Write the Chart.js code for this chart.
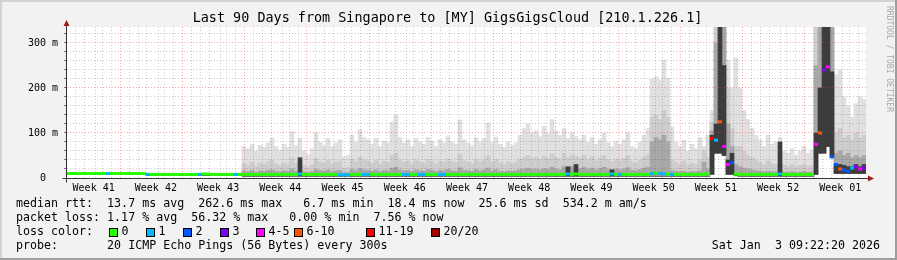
<!DOCTYPE html>
<html>
<head>
<meta charset="utf-8">
<title>Last 90 Days from Singapore to [MY] GigsGigsCloud [210.1.226.1]</title>
<script src="https://cdn.jsdelivr.net/npm/chart.js@4.4.1/dist/chart.umd.min.js"></script>
<style>
  html, body { margin: 0; padding: 0; background: #f2f2f2; }
  canvas { display: block; }
</style>
</head>
<body>
<canvas id="smokeChart" width="897" height="260"></canvas>
<script>
"use strict";

const title = "Last 90 Days from Singapore to [MY] GigsGigsCloud [210.1.226.1]";
const rangeDays = 90;
const stepDays = 0.45;        // one consolidated column of the rrd
const startHour = 9.372;      // Sun Oct 5 2025 09:22:20
const yMax = 335.5;

const weekLabels = ["Week 41", "Week 42", "Week 43", "Week 44", "Week 45", "Week 46", "Week 47",
    "Week 48", "Week 49", "Week 50", "Week 51", "Week 52", "Week 01"];
const yGridValues = [0, 20, 40, 60, 80, 100, 120, 140, 160, 180, 200, 220, 240, 260, 280, 300, 320];
const yTickValues = [0, 100, 200, 300];
const yTickLabels = ["0  ", "100 m", "200 m", "300 m"];

const lossLabels = ["0", "1", "2", "3", "4-5", "6-10", "11-19", "20/20"];
const lossColors = ["#26ff00", "#00b8ff", "#0059ff", "#7e00ff", "#ff00ff", "#ff5500", "#ff0000", "#a10000"];

const statsLines = [
    "median rtt:  13.7 ms avg  262.6 ms max   6.7 ms min  18.4 ms now  25.6 ms sd  534.2 m am/s",
    "packet loss: 1.17 % avg  56.32 % max   0.00 % min  7.56 % now"
];
const probeLine = "probe:       20 ICMP Echo Pings (56 Bytes) every 300s";
const stampLine = "Sat Jan  3 09:22:20 2026";

// median rtt per column (ms)
const median = [
    10, 10, 10, 10, 10, 10, 10, 10, 10, 10,
    10, 10, 10, 10, 10, 10, 10, 10, 10, 10,
    8, 8, 8, 8, 8, 8, 8, 8, 8, 8,
    8, 8, 8, 8, 9, 9, 8, 8, 8, 8,
    8, 8, 8, 8, 8, 8, 8, 8, 8, 8,
    8, 8, 8, 8, 8, 8, 8, 8, 9, 8,
    8, 8, 8, 8, 8, 8, 8, 8, 7, 7,
    7, 8, 8, 8, 8, 8, 8, 8, 8, 8,
    8, 8, 8, 8, 8, 8, 8, 8, 8, 8,
    8, 8, 8, 8, 8, 8, 8, 8, 8, 8,
    8, 8, 8, 8, 8, 8, 8, 8, 8, 8,
    8, 8, 8, 8, 8, 8, 8, 8, 8, 8,
    8, 8, 8, 8, 8, 9, 8, 9, 8, 8,
    8, 8, 8, 8, 8, 8, 9, 8, 8, 8,
    8, 8, 8, 8, 8, 8, 10, 11, 10, 9,
    9, 8, 8, 8, 8, 8, 8, 8, 8, 8,
    9, 88, 84, 125, 70, 30, 34, 9, 8, 8,
    8, 8, 8, 8, 8, 8, 8, 8, 9, 8,
    8, 8, 8, 8, 8, 8, 8, 75, 100, 240,
    247, 47, 30, 20, 18, 15, 22, 25, 20, 22
];

// loss band index per column (into lossLabels)
const loss = [
    0, 0, 0, 0, 0, 0, 0, 0, 0, 0,
    1, 0, 0, 0, 0, 0, 0, 0, 0, 0,
    1, 0, 0, 0, 0, 0, 0, 0, 0, 0,
    0, 0, 0, 1, 0, 0, 0, 0, 0, 0,
    0, 0, 1, 0, 0, 0, 0, 0, 0, 0,
    0, 0, 0, 0, 0, 0, 0, 0, 1, 0,
    0, 0, 0, 0, 0, 0, 0, 0, 1, 1,
    1, 0, 0, 0, 1, 1, 0, 0, 0, 0,
    0, 0, 0, 0, 1, 1, 0, 0, 1, 1,
    0, 0, 0, 1, 1, 0, 0, 0, 0, 0,
    0, 0, 0, 0, 0, 0, 0, 0, 0, 0,
    0, 0, 0, 0, 0, 0, 0, 0, 0, 0,
    0, 0, 0, 0, 0, 1, 0, 0, 0, 0,
    0, 0, 0, 0, 0, 0, 1, 0, 1, 0,
    0, 0, 0, 0, 0, 0, 1, 0, 1, 1,
    0, 1, 0, 0, 0, 0, 0, 0, 0, 0,
    0, 6, 1, 5, 4, 4, 2, 0, 0, 0,
    0, 0, 0, 0, 0, 0, 0, 0, 1, 0,
    0, 0, 0, 0, 0, 0, 0, 4, 5, 3,
    4, 2, 2, 5, 2, 2, 1, 3, 4, 3
];

// smoke: bottom of the ping spread
const smokeLo = [
    8, 8, 8, 8, 8, 8, 8, 8, 8, 8,
    8, 8, 8, 8, 8, 8, 8, 8, 8, 8,
    6, 6, 6, 6, 6, 6, 6, 6, 6, 6,
    6, 6, 6, 6, 6, 6, 6, 6, 6, 6,
    6, 6, 6, 6, 4, 4, 4, 4, 4, 4,
    4, 4, 4, 4, 4, 4, 4, 4, 4, 4,
    4, 4, 4, 4, 4, 4, 4, 4, 4, 4,
    4, 4, 4, 4, 4, 4, 4, 4, 4, 4,
    4, 4, 4, 4, 4, 4, 4, 4, 4, 4,
    4, 4, 4, 4, 4, 4, 4, 4, 4, 4,
    4, 4, 4, 4, 4, 4, 4, 4, 4, 4,
    4, 4, 4, 4, 4, 4, 4, 4, 4, 4,
    4, 4, 4, 4, 4, 4, 4, 4, 4, 4,
    4, 4, 4, 4, 4, 4, 4, 4, 4, 4,
    4, 4, 4, 4, 4, 4, 4, 4, 4, 4,
    4, 4, 4, 4, 4, 4, 4, 4, 4, 4,
    4, 8, 55, 55, 50, 8, 8, 5, 4, 4,
    4, 4, 4, 4, 4, 4, 4, 4, 4, 4,
    4, 4, 4, 4, 4, 4, 4, 8, 55, 55,
    70, 45, 10, 10, 10, 10, 10, 10, 10, 10
];

// smoke: highest ping (lightest shade)
const smokeMax = [
    12, 12, 12, 12, 12, 12, 12, 12, 12, 12,
    12, 12, 12, 12, 12, 12, 12, 12, 12, 12,
    10, 10, 10, 10, 10, 10, 10, 10, 10, 10,
    10, 10, 10, 10, 10, 10, 10, 10, 10, 10,
    10, 10, 10, 10, 70, 65, 75, 60, 72, 68,
    78, 89, 70, 62, 75, 68, 103, 72, 89, 60,
    52, 65, 100, 80, 72, 88, 70, 78, 85, 47,
    50, 95, 80, 107, 90, 85, 75, 88, 70, 82,
    78, 125, 140, 90, 78, 85, 70, 88, 80, 75,
    90, 82, 70, 85, 78, 92, 80, 75, 129, 85,
    78, 72, 90, 80, 88, 122, 80, 91, 75, 68,
    80, 72, 78, 95, 110, 120, 100, 105, 92, 115,
    98, 130, 105, 95, 110, 88, 100, 92, 85, 95,
    80, 90, 75, 85, 100, 78, 70, 82, 75, 85,
    100, 70, 65, 80, 95, 110, 220, 225, 218, 262,
    222, 113, 80, 70, 84, 60, 75, 65, 90, 70,
    95, 150, 340, 340, 340, 262, 200, 267, 200, 150,
    130, 110, 95, 85, 70, 95, 75, 80, 90, 60,
    55, 65, 50, 60, 70, 55, 62, 340, 340, 340,
    340, 340, 230, 240, 180, 160, 135, 165, 180, 175
];

// smoke: upper middle shade
const smokeMid = [
    8, 8, 8, 8, 8, 8, 8, 8, 8, 8,
    8, 8, 8, 8, 8, 8, 8, 8, 8, 8,
    6, 6, 6, 6, 6, 6, 6, 6, 6, 6,
    6, 6, 6, 6, 6, 6, 6, 6, 6, 6,
    6, 6, 6, 6, 32, 28, 35, 26, 33, 30,
    36, 40, 31, 27, 34, 30, 45, 32, 40, 27,
    24, 29, 44, 36, 32, 40, 31, 35, 38, 22,
    24, 42, 36, 46, 40, 38, 33, 39, 31, 37,
    35, 50, 55, 40, 35, 38, 31, 40, 36, 33,
    41, 37, 31, 38, 35, 42, 36, 34, 52, 38,
    35, 32, 41, 36, 40, 50, 36, 41, 34, 30,
    36, 32, 35, 42, 46, 50, 44, 46, 41, 48,
    43, 54, 46, 42, 55, 45, 52, 48, 44, 50,
    42, 47, 38, 44, 50, 40, 36, 42, 38, 43,
    50, 36, 33, 40, 46, 52, 135, 140, 130, 150,
    135, 40, 35, 30, 38, 28, 32, 30, 40, 60,
    45, 125, 340, 340, 340, 200, 110, 70, 70, 60,
    50, 45, 40, 35, 30, 38, 32, 30, 40, 28,
    25, 30, 24, 28, 30, 25, 28, 340, 340, 340,
    340, 340, 100, 110, 90, 95, 85, 100, 90, 95
];

// smoke: core shade around the median
const smokeCore = [
    8, 8, 8, 8, 8, 8, 8, 8, 8, 8,
    8, 8, 8, 8, 8, 8, 8, 8, 8, 8,
    6, 6, 6, 6, 6, 6, 6, 6, 6, 6,
    6, 6, 6, 6, 6, 6, 6, 6, 6, 6,
    6, 6, 6, 6, 16, 14, 17, 13, 16, 15,
    17, 18, 15, 14, 16, 15, 20, 15, 18, 13,
    12, 14, 19, 17, 15, 18, 14, 16, 17, 12,
    12, 19, 16, 21, 18, 17, 15, 18, 14, 17,
    16, 22, 24, 18, 16, 17, 14, 18, 16, 15,
    19, 17, 14, 17, 16, 19, 16, 15, 23, 17,
    16, 15, 19, 16, 18, 22, 16, 19, 15, 14,
    16, 15, 16, 19, 20, 22, 19, 20, 18, 21,
    19, 24, 20, 18, 25, 22, 26, 24, 21, 24,
    20, 22, 18, 21, 24, 19, 18, 20, 18, 20,
    23, 17, 16, 19, 22, 24, 80, 90, 85, 95,
    80, 16, 15, 14, 15, 13, 14, 14, 16, 35,
    20, 105, 300, 340, 340, 120, 70, 30, 25, 22,
    20, 18, 16, 15, 14, 15, 14, 14, 30, 13,
    13, 14, 12, 13, 14, 13, 13, 250, 340, 340,
    340, 340, 55, 60, 50, 55, 45, 50, 45, 50
];

// smoke: darkest shade (tight spread right at the median)
const smokeDark = [
    8, 8, 8, 8, 8, 8, 8, 8, 8, 8,
    8, 8, 8, 8, 8, 8, 8, 8, 8, 8,
    6, 6, 6, 6, 6, 6, 6, 6, 6, 6,
    6, 6, 6, 6, 6, 6, 6, 6, 6, 6,
    6, 6, 6, 6, 4, 4, 4, 4, 4, 4,
    4, 4, 4, 4, 4, 4, 4, 4, 45, 4,
    4, 4, 4, 4, 4, 4, 4, 4, 4, 4,
    4, 4, 4, 4, 4, 4, 4, 4, 4, 4,
    4, 4, 4, 4, 4, 4, 4, 4, 4, 4,
    4, 4, 4, 4, 4, 4, 4, 4, 4, 4,
    4, 4, 4, 4, 4, 4, 4, 4, 4, 4,
    4, 4, 4, 4, 4, 4, 4, 4, 4, 4,
    4, 4, 4, 4, 4, 25, 4, 30, 4, 4,
    4, 4, 4, 4, 4, 4, 18, 4, 4, 4,
    4, 4, 4, 4, 4, 4, 4, 4, 4, 4,
    4, 4, 4, 4, 4, 4, 4, 4, 4, 4,
    4, 95, 120, 340, 250, 40, 55, 5, 4, 4,
    4, 4, 4, 4, 4, 4, 4, 4, 80, 4,
    4, 4, 4, 4, 4, 4, 4, 100, 200, 340,
    340, 236, 30, 30, 28, 25, 25, 30, 25, 30
];

const monoFont = '"DejaVu Sans Mono", "Liberation Mono", monospace';
const minorGrid = "rgba(90, 90, 90, 0.3)";
const majorGrid = "rgba(235, 60, 60, 0.45)";
const noGrid = "rgba(0, 0, 0, 0)";

/**
 * Day / week ticks of the x axis, in days since the graph start
 * @returns {Array} tick objects
 */
function buildXTicks() {
    const firstMidnight = 1 - startHour / 24;
    const ticks = [];
    for (let k = 0; firstMidnight + k < rangeDays; k++) {
        // start day is a Sunday, day k after the first midnight is Monday + k
        ticks.push({ value: firstMidnight + k, kind: (k % 7 === 6) ? "week" : "day" });
    }
    weekLabels.forEach((name, k) => {
        ticks.push({ value: firstMidnight - 1 + 3.5 + 7 * k, kind: "label", week: name });
    });
    return ticks.sort((a, b) => a.value - b.value);
}

/**
 * Grid colour for an x tick
 */
function xGridColor(c) {
    if (!c.tick) return noGrid;
    if (c.tick.kind === "week") return majorGrid;
    return c.tick.kind === "day" ? minorGrid : noGrid;
}

/**
 * Grid colour for a y tick
 */
function yGridColor(c) {
    if (!c.tick || c.tick.value === 0) return noGrid;
    return c.tick.value % 100 === 0 ? majorGrid : minorGrid;
}

/**
 * Floating bar data for one smoke shade
 */
function band(xs, lo, hi) {
    return xs.map((x, i) => ({ x: x, y: [lo[i], hi[i]] }));
}

const rrdPlugin = {
    id: "rrdLook",
    beforeDraw(chart) {
        const { ctx, chartArea: a } = chart;
        ctx.save();
        ctx.fillStyle = "#f2f2f2";
        ctx.fillRect(0, 0, chart.width, chart.height);
        ctx.fillStyle = "#ffffff";
        ctx.fillRect(a.left, a.top, a.right - a.left, a.bottom - a.top);
        ctx.restore();
    },
    afterDraw(chart) {
        const { ctx, chartArea: a } = chart;
        const ax = a.left + 0.5;
        const ay = a.bottom + 0.5;
        ctx.save();

        // axis stubs beyond the plot and the arrows
        ctx.strokeStyle = "#333";
        ctx.lineWidth = 1;
        ctx.beginPath();
        ctx.moveTo(ax, 24); ctx.lineTo(ax, ay + 4);
        ctx.moveTo(ax - 4, ay); ctx.lineTo(a.right + 3, ay);
        ctx.stroke();
        ctx.fillStyle = "#9b1c1c";
        ctx.beginPath();
        ctx.moveTo(ax - 3, 26); ctx.lineTo(ax + 3, 26); ctx.lineTo(ax, 20);
        ctx.closePath(); ctx.fill();
        ctx.beginPath();
        ctx.moveTo(a.right + 2, ay - 3); ctx.lineTo(a.right + 2, ay + 3); ctx.lineTo(a.right + 8, ay);
        ctx.closePath(); ctx.fill();

        // title
        ctx.fillStyle = "#000";
        ctx.font = "13.45px " + monoFont;
        ctx.textAlign = "center";
        ctx.textBaseline = "middle";
        ctx.fillText(title, chart.width / 2 - 1, 19);

        // legend block
        ctx.font = "11.65px " + monoFont;
        ctx.textAlign = "left";
        ctx.fillText(statsLines[0], 16, 204);
        ctx.fillText(statsLines[1], 16, 218);
        ctx.fillText("loss color:", 16, 232);
        const boxX = [109, 146, 183, 220, 256, 294, 366, 431];
        lossLabels.forEach((lbl, i) => {
            ctx.fillStyle = lossColors[i];
            ctx.fillRect(boxX[i], 228, 9, 9);
            ctx.strokeStyle = "#000";
            ctx.strokeRect(boxX[i] + 0.5, 228.5, 8, 8);
            ctx.fillStyle = "#000";
            ctx.fillText(lbl, boxX[i] + 12.5, 232);
        });
        ctx.fillText(probeLine, 16, 246);
        ctx.textAlign = "right";
        ctx.fillText(stampLine, 880, 246);

        // vertical watermark
        ctx.save();
        ctx.translate(889, 59);
        ctx.rotate(Math.PI / 2);
        ctx.font = "8px " + monoFont;
        ctx.fillStyle = "#a8a8a8";
        ctx.textAlign = "center";
        ctx.fillText("RRDTOOL / TOBI OETIKER", 0, 0);
        ctx.restore();

        // shaded frame
        ctx.fillStyle = "#d2d2d2";
        ctx.fillRect(0, 0, chart.width, 2);
        ctx.fillRect(0, 0, 2, chart.height);
        ctx.fillStyle = "#9e9e9e";
        ctx.fillRect(0, chart.height - 2, chart.width, 2);
        ctx.fillRect(chart.width - 2, 0, 2, chart.height);
        ctx.restore();
    }
};

/**
 * Renders the smokeping graph using chart.js
 */
function renderChart() {
    const ctx = document.getElementById("smokeChart");
    const xs = median.map((_, i) => (i + 0.5) * stepDays);

    new Chart(ctx, {
        type: "bar",
        data: {
            datasets: [
                {
                    type: "line",
                    label: "median",
                    data: xs.map((x, i) => ({ x: x, y: median[i] })),
                    showLine: false,
                    pointStyle: "line",
                    pointRadius: 2,
                    pointBorderWidth: 3,
                    pointBorderColor: loss.map(l => lossColors[l]),
                    order: 0
                },
                { label: "dark", data: band(xs, smokeLo, smokeDark), backgroundColor: "#3c3c3c", order: 1 },
                { label: "core", data: band(xs, smokeLo, smokeCore), backgroundColor: "#a8a8a8", order: 2 },
                { label: "mid", data: band(xs, smokeLo, smokeMid), backgroundColor: "#cdcdcd", order: 3 },
                { label: "max", data: band(xs, smokeLo, smokeMax), backgroundColor: "#e0e0e0", order: 4 }
            ]
        },
        options: {
            responsive: false,
            animation: false,
            events: [],
            layout: { padding: { left: 0, right: 31, top: 27, bottom: 0 } },
            datasets: {
                bar: { barPercentage: 1, categoryPercentage: 1, grouped: false, borderWidth: 0 }
            },
            plugins: {
                legend: { display: false },
                title: { display: false },
                tooltip: { enabled: false }
            },
            scales: {
                x: {
                    type: "linear",
                    min: 0,
                    max: rangeDays,
                    offset: false,
                    afterBuildTicks: s => { s.ticks = buildXTicks(); },
                    afterFit: s => { s.height = 82; },
                    grid: { z: 1, drawTicks: false, color: xGridColor },
                    border: { color: "#333", width: 1, dash: [1, 2], z: 2 },
                    ticks: {
                        autoSkip: false,
                        maxRotation: 0,
                        padding: 4,
                        color: "#000",
                        font: { family: monoFont, size: 10 },
                        callback: (v, i, t) => (t[i] && t[i].week) || ""
                    }
                },
                y: {
                    type: "linear",
                    min: 0,
                    max: yMax,
                    afterBuildTicks: s => { s.ticks = yGridValues.map(v => ({ value: v })); },
                    afterFit: s => { s.width = 66; },
                    grid: { z: 1, drawTicks: true, tickLength: 2, tickColor: "#777", color: yGridColor },
                    border: { color: "#333", width: 1, dash: [1, 2], z: 2 },
                    ticks: {
                        autoSkip: false,
                        padding: 6,
                        color: "#000",
                        font: { family: monoFont, size: 10 },
                        callback: v => {
                            const k = yTickValues.indexOf(v);
                            return k < 0 ? "" : yTickLabels[k];
                        }
                    }
                }
            }
        },
        plugins: [rrdPlugin]
    });
}

renderChart();
</script>
</body>
</html>
